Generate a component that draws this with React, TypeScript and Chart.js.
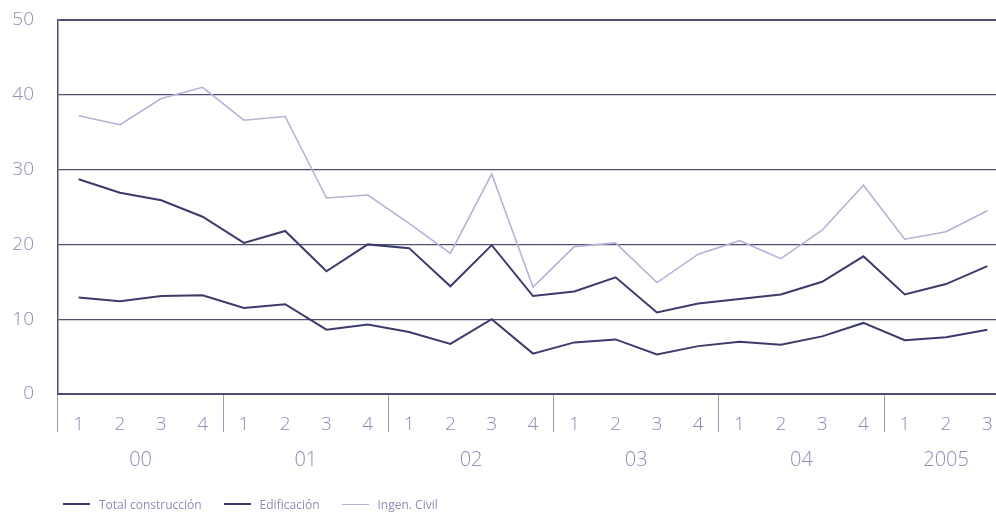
import React, { useEffect, useRef } from "react";
import { Chart, registerables } from "chart.js";

Chart.register(...registerables);

const quarters = [
  "1", "2", "3", "4", "1", "2", "3", "4", "1", "2", "3", "4",
  "1", "2", "3", "4", "1", "2", "3", "4", "1", "2", "3",
];
const years = ["00", "01", "02", "03", "04", "2005"];

const totalConstruccion = [
  12.9, 12.4, 13.1, 13.2, 11.5, 12.0, 8.6, 9.3, 8.3, 6.7, 10.0, 5.4,
  6.9, 7.3, 5.3, 6.4, 7.0, 6.6, 7.7, 9.5, 7.2, 7.6, 8.6,
];
const edificacion = [
  28.7, 26.9, 25.9, 23.7, 20.2, 21.8, 16.4, 20.0, 19.5, 14.4, 19.9, 13.1,
  13.7, 15.6, 10.9, 12.1, 12.7, 13.3, 15.0, 18.4, 13.3, 14.7, 17.1,
];
const ingenCivil = [
  37.2, 36.0, 39.5, 41.0, 36.6, 37.1, 26.2, 26.6, 22.8, 18.8, 29.4, 14.3,
  19.7, 20.2, 14.9, 18.7, 20.5, 18.1, 21.9, 27.9, 20.7, 21.7, 24.5,
];

const DARK = "#3b3b6c";
const LIGHT = "#b3b3d6";
const GRID = "#4e4e72";
const TEXT = "#8d8db5";
const FONT = "'Open Sans', 'DejaVu Sans', sans-serif";

const series = [
  { label: "Total construcción", data: totalConstruccion, color: DARK, width: 2 },
  { label: "Edificación", data: edificacion, color: DARK, width: 2 },
  { label: "Ingen. Civil", data: ingenCivil, color: LIGHT, width: 1.6 },
];

// year names centred under their quarters
const yearLabels = {
  id: "yearLabels",
  afterDraw(chart: any) {
    const x = chart.scales.x;
    const ctx = chart.ctx;
    ctx.save();
    ctx.fillStyle = TEXT;
    ctx.font = `300 20px ${FONT}`;
    ctx.textAlign = "center";
    ctx.textBaseline = "middle";
    years.forEach((yr, i) => {
      const first = i * 4;
      const last = Math.min(first + 3, quarters.length - 1);
      const cx = (x.getPixelForValue(first) + x.getPixelForValue(last)) / 2;
      ctx.fillText(yr, cx, 460);
    });
    ctx.restore();
  },
};

const App: React.FC = () => {
  const chartRef = useRef<HTMLCanvasElement | null>(null);

  useEffect(() => {
    if (!chartRef.current) return;
    const chart = new Chart(chartRef.current, {
      type: "line",
      data: {
        labels: quarters,
        datasets: series.map((s) => ({
          label: s.label,
          data: s.data,
          borderColor: s.color,
          backgroundColor: s.color,
          borderWidth: s.width,
          pointRadius: 0,
          tension: 0,
        })),
      },
      options: {
        animation: false,
        responsive: false,
        devicePixelRatio: 1,
        layout: { padding: { top: 20, left: 8, right: 2, bottom: 0 } },
        plugins: {
          tooltip: { enabled: false },
          legend: { display: false },
        },
        scales: {
          x: {
            type: "category",
            offset: true,
            afterFit: (scale: any) => {
              scale.height = 120;
            },
            grid: {
              offset: true,
              drawOnChartArea: false,
              drawTicks: true,
              tickLength: 38,
              lineWidth: 1,
              color: (ctx: any) => (ctx.index % 4 === 0 ? "#9a9ab8" : "transparent"),
            },
            border: { display: true, color: GRID, width: 2 },
            ticks: {
              autoSkip: false,
              maxRotation: 0,
              padding: -19,
              color: TEXT,
              font: { family: FONT, size: 19, weight: 300 },
            },
          },
          y: {
            min: 0,
            max: 50,
            afterFit: (scale: any) => {
              scale.width = 50;
            },
            ticks: {
              stepSize: 10,
              padding: 2,
              color: TEXT,
              font: { family: FONT, size: 19, weight: 300 },
            },
            grid: {
              drawTicks: true,
              tickLength: 22,
              tickColor: "transparent",
              color: GRID,
              lineWidth: (ctx: any) => (ctx.tick && ctx.tick.value === 50 ? 2 : 1.2),
            },
            border: { display: true, color: GRID, width: 1.5 },
          },
        },
      },
      plugins: [yearLabels],
    });
    return () => {
      chart.destroy();
    };
  }, []);

  return (
    <div
      style={{
        position: "fixed",
        left: 0,
        top: 0,
        width: 996,
        height: 514,
        overflow: "hidden",
        background: "#fff",
      }}
    >
      <canvas ref={chartRef} width={1010} height={514} style={{ width: 1010, height: 514 }} />
      <div
        style={{
          position: "absolute",
          left: 63,
          top: 496,
          height: 16,
          display: "flex",
          alignItems: "center",
          fontFamily: FONT,
          fontSize: 12,
          color: TEXT,
        }}
      >
        {series.map((s) => (
          <div key={s.label} style={{ display: "flex", alignItems: "center", marginRight: 22 }}>
            <span
              style={{
                display: "inline-block",
                width: 27,
                height: 0,
                borderTop: `${s.width}px solid ${s.color}`,
                marginRight: 9,
              }}
            />
            <span>{s.label}</span>
          </div>
        ))}
      </div>
    </div>
  );
};

export default App;
